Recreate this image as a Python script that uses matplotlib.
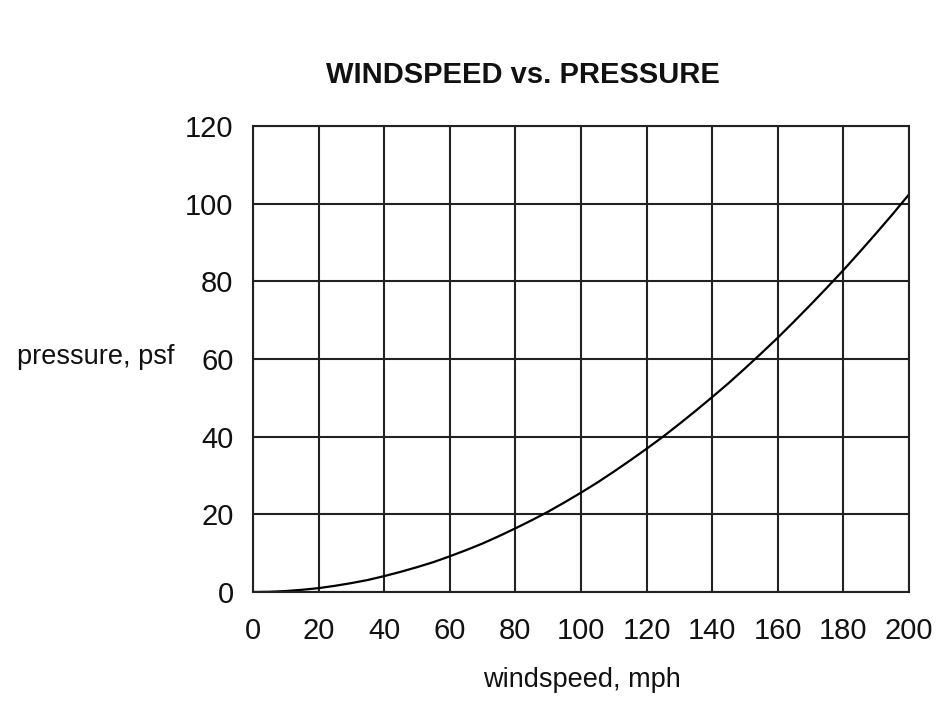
import matplotlib.pyplot as plt

windspeed = [0, 5, 10, 15, 20, 25, 30, 35, 40, 45, 50, 55, 60, 65, 70, 75,
             80, 85, 90, 95, 100, 105, 110, 115, 120, 125, 130, 135, 140,
             145, 150, 155, 160, 165, 170, 175, 180, 185, 190, 195, 200]
pressure = [0, 0.06, 0.25, 0.58, 1.0, 1.6, 2.3, 3.1, 4.1, 5.2, 6.4, 7.7,
            9.2, 10.8, 12.5, 14.4, 16.4, 18.5, 20.7, 23.1, 25.6, 28.2, 31.0,
            33.9, 36.9, 40.0, 43.3, 46.7, 50.2, 53.8, 57.6, 61.5, 65.5, 69.7,
            74.0, 78.4, 82.9, 87.6, 92.4, 97.3, 102.4]
x_ticks = list(range(0, 201, 20))
y_ticks = list(range(0, 121, 20))

plt.rcParams['font.family'] = ['Liberation Sans', 'DejaVu Sans']

fig = plt.figure(figsize=(9.41, 7.15), dpi=100)
ax = fig.add_axes([0.2689, 0.172, 0.6971, 0.6517])

ax.plot(windspeed, pressure, color='black', linewidth=1.6)
ax.set_xlim(0, 200)
ax.set_ylim(0, 120)
ax.set_xticks(x_ticks)
ax.set_yticks(y_ticks)
ax.grid(color='#222222', linewidth=1.5)
for s in ax.spines.values():
    s.set_linewidth(1.5)
    s.set_color('#222222')
ax.tick_params(axis='both', length=0, labelsize=21, colors='#111111')
ax.tick_params(axis='x', pad=18)
ax.tick_params(axis='y', pad=14)

fig.text(0.556, 0.895, 'WINDSPEED vs. PRESSURE', ha='center', va='center',
         fontsize=21, fontweight='bold', color='#111111')
fig.text(0.618, 0.049, 'windspeed, mph', ha='center', va='center',
         fontsize=19.5, color='#111111')
fig.text(0.102, 0.501, 'pressure, psf', ha='center', va='center',
         fontsize=19.5, color='#111111')

fig.savefig('out.png', dpi=100)
